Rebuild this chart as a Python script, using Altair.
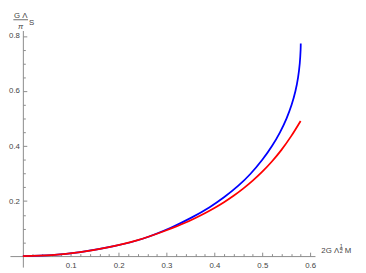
import altair as alt
import pandas as pd

# ---- data ----
blue_x = [0, 0.06, 0.12, 0.19, 0.25, 0.31, 0.35, 0.39, 0.42, 0.45, 0.475, 0.50, 0.5202, 0.5369, 0.5505, 0.5612, 0.5692, 0.5747, 0.5782, 0.5800, 0.5803]
blue_y = [0, 0.0036, 0.0145, 0.036, 0.063, 0.104, 0.138, 0.178, 0.214, 0.256, 0.2985, 0.350, 0.400, 0.450, 0.500, 0.550, 0.600, 0.650, 0.700, 0.750, 0.773]
red_x = [0, 0.06, 0.12, 0.18, 0.24, 0.30, 0.34, 0.38, 0.40, 0.42, 0.44, 0.46, 0.48, 0.50, 0.52, 0.54, 0.56, 0.58]
red_y = [0, 0.0036, 0.0145, 0.0325, 0.058, 0.094, 0.122, 0.156, 0.175, 0.196, 0.2194, 0.2454, 0.2744, 0.3068, 0.3438, 0.3862, 0.4352, 0.4912]

x_major = [0.1, 0.2, 0.3, 0.4, 0.5, 0.6]
x_minor = [0.02, 0.04, 0.06, 0.08, 0.12, 0.14, 0.16, 0.18, 0.22, 0.24, 0.26, 0.28,
           0.32, 0.34, 0.36, 0.38, 0.42, 0.44, 0.46, 0.48, 0.52, 0.54, 0.56, 0.58]
y_major = [0.2, 0.4, 0.6, 0.8]
y_minor = [0.05, 0.1, 0.15, 0.25, 0.3, 0.35, 0.45, 0.5, 0.55, 0.65, 0.7, 0.75]

blue_df = pd.DataFrame({"x": blue_x, "y": blue_y})
red_df = pd.DataFrame({"x": red_x, "y": red_y})

W, H = 312, 242
XDOM = [-0.027, 0.61]
YDOM = [-0.04, 0.82]
x0_px = W * (0 - XDOM[0]) / (XDOM[1] - XDOM[0])
y0_px = H * (YDOM[1] - 0) / (YDOM[1] - YDOM[0])

FONT = "Liberation Sans"
AX = "#8a8a8a"
TXT = "#444444"
FS = 8

xs = alt.Scale(domain=XDOM, nice=False, zero=False)
ys = alt.Scale(domain=YDOM, nice=False, zero=False)

major_x = alt.Axis(orient="top", offset=-y0_px, values=x_major, tickSize=4, tickColor=AX,
                   domainColor=AX, domainWidth=1, tickWidth=1, grid=False, title=None,
                   labelPadding=-15.5, labelBaseline="alphabetic", labelFont=FONT,
                   labelFontSize=FS, labelColor=TXT, labelFlush=False, labelOverlap=False,
                   format=".1f")
major_y = alt.Axis(orient="right", offset=-(W - x0_px), values=y_major, tickSize=4, tickColor=AX,
                   domainColor=AX, domainWidth=1, tickWidth=1, grid=False, title=None,
                   labelPadding=-7.5, labelAlign="right", labelBaseline="middle", labelFont=FONT,
                   labelFontSize=FS, labelColor=TXT, labelFlush=False, labelOverlap=False,
                   format=".1f")
minor_x = alt.Axis(orient="top", offset=-y0_px, values=x_minor, tickSize=2.5, tickColor=AX,
                   tickWidth=1, domain=False, labels=False, grid=False, title=None)
minor_y = alt.Axis(orient="right", offset=-(W - x0_px), values=y_minor, tickSize=2.5, tickColor=AX,
                   tickWidth=1, domain=False, labels=False, grid=False, title=None)

blue = alt.Chart(blue_df).mark_line(color="#0000ff", strokeWidth=1.8, interpolate="catmull-rom").encode(
    x=alt.X("x:Q", scale=xs, axis=major_x),
    y=alt.Y("y:Q", scale=ys, axis=major_y),
)
red = alt.Chart(red_df).mark_line(color="#ff0000", strokeWidth=1.8, interpolate="catmull-rom").encode(
    x=alt.X("x:Q", scale=xs, axis=minor_x),
    y=alt.Y("y:Q", scale=ys, axis=minor_y),
)

one = pd.DataFrame({"a": [0]})


def txt(t, x, y, size=FS, align="left", style="normal"):
    return alt.Chart(one).mark_text(text=t, font=FONT, fontSize=size, color=TXT, align=align,
                                    baseline="alphabetic", fontStyle=style).encode(
        x=alt.value(x), y=alt.value(y))


def hline(xa, xb, y):
    return alt.Chart(one).mark_rule(color=TXT, strokeWidth=0.8).encode(
        x=alt.value(xa), x2=alt.value(xb), y=alt.value(y))


annots = [
    # y-axis label: (G Λ / π) S
    txt("G Λ", 11, -13.2, align="center"),
    hline(3.5, 18.5, -11),
    txt("π", 11, -1.2, align="center", style="italic"),
    txt("S", 19.5, -5.6),
    # x-axis label: 2G Λ^(1/2) M
    txt("2G", 318.5, 228),
    txt("Λ", 331.5, 228),
    txt("1", 338.8, 222, size=5.5, align="center"),
    hline(337.3, 340.3, 223.3),
    txt("2", 338.8, 227.5, size=5.5, align="center"),
    txt("M", 342.5, 228),
]

chart = alt.layer(blue, red, *annots).resolve_axis(x="independent", y="independent").properties(
    width=W, height=H,
    autosize=alt.AutoSizeParams(type="none"),
    padding={"left": 2, "top": 20, "right": 44, "bottom": 3},
).configure_view(stroke=None)

chart.save("out.html", embed_options={"renderer": "svg", "actions": False})
